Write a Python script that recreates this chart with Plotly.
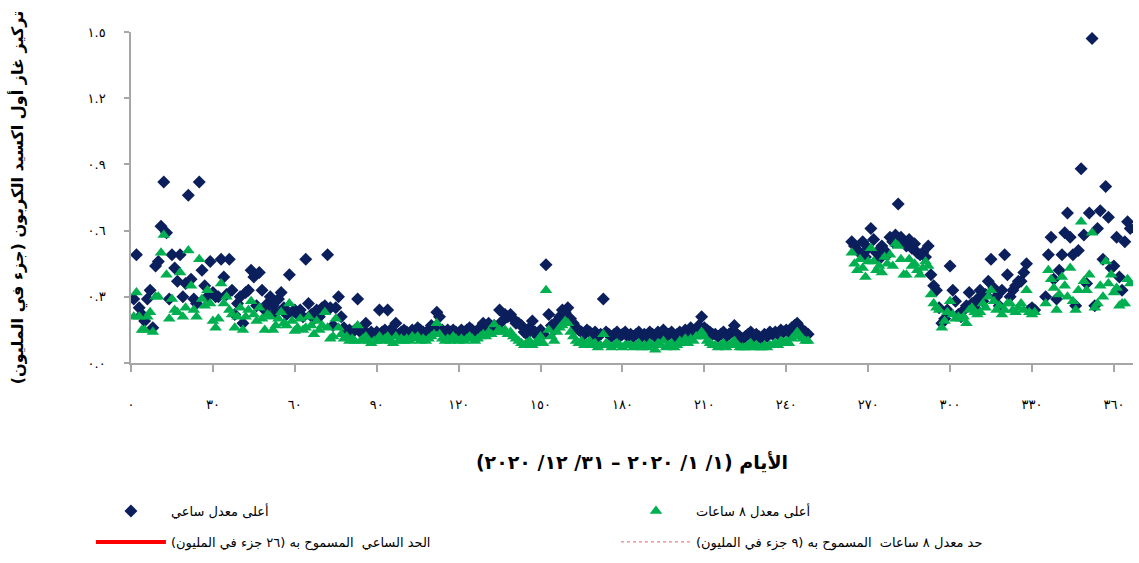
import plotly.graph_objects as go

# Daily maximum CO concentrations (ppm) for 2020, one value per day, by month.
# None marks days with no valid measurement.
jan_hourly = [0.29, 0.49, 0.25, 0.22, 0.19, 0.29, 0.33, 0.16, 0.44, 0.46, 0.62, 0.82, 0.59, 0.29, 0.49, 0.43,
              0.37, 0.49, 0.30, 0.36, 0.76, 0.38, 0.29, 0.27, 0.82, 0.42, 0.35, 0.30, 0.46, 0.32, 0.30]
feb_hourly = [0.30, 0.47, 0.39, 0.31, 0.47, 0.33, 0.22, 0.27, 0.30, 0.18, 0.32, 0.33, 0.42, 0.39, 0.26,
              0.41, 0.33, 0.24, 0.27, 0.30, 0.26, 0.23, 0.29, 0.32, 0.25, 0.22, 0.40, 0.23, 0.24]
mar_hourly = [0.22, 0.24, 0.21, 0.47, 0.27, 0.22, 0.20, 0.24, 0.21, 0.25, 0.26, 0.49, 0.25, 0.17, 0.25, 0.30,
              0.21, 0.16, 0.14, 0.15, 0.14, 0.15, 0.29, 0.14, 0.15, 0.18, 0.13, 0.14, 0.13, 0.14, 0.24]
apr_hourly = [0.14, 0.15, 0.24, 0.15, 0.14, 0.18, 0.13, 0.14, 0.15, 0.14, 0.13, 0.15, 0.14, 0.16, 0.15,
              0.14, 0.13, 0.15, 0.17, 0.16, 0.23, 0.21, 0.15, 0.14, 0.15, 0.14, 0.15, 0.14, 0.13, 0.15]
may_hourly = [0.14, 0.15, 0.16, 0.15, 0.14, 0.15, 0.16, 0.18, 0.15, 0.18, 0.16, 0.17, 0.16, 0.24, 0.19, 0.22,
              0.21, 0.22, 0.20, 0.18, 0.18, 0.17, 0.14, 0.13, 0.16, 0.19, 0.14, 0.12, 0.15, 0.13, 0.445]
jun_hourly = [0.22, 0.17, 0.15, 0.19, 0.21, 0.24, 0.23, 0.25, 0.20, 0.18, 0.16, 0.15, 0.14, 0.13, 0.15,
              0.14, 0.13, 0.14, 0.12, 0.13, 0.29, 0.14, 0.13, 0.12, 0.13, 0.14, 0.12, 0.13, 0.14, 0.12]
jul_hourly = [0.13, 0.12, 0.13, 0.14, 0.12, 0.13, 0.12, 0.14, 0.13, 0.12, 0.14, 0.13, 0.15, 0.12, 0.13, 0.14,
              0.12, 0.13, 0.14, 0.13, 0.15, 0.14, 0.16, 0.14, 0.15, 0.17, 0.21, 0.16, 0.15, 0.14, 0.13]
aug_hourly = [0.13, 0.12, 0.13, 0.14, 0.12, 0.13, 0.14, 0.17, 0.13, 0.12, 0.11, 0.12, 0.13, 0.14, 0.12, 0.13,
              0.12, 0.11, 0.13, 0.12, 0.14, 0.13, 0.14, 0.13, 0.15, 0.14, 0.15, 0.14, 0.16, 0.17, 0.18]
sep_hourly = [0.16, 0.15, 0.14, 0.13, None, None, None, None, None, None, None, None, None, None, None,
              None, None, None, None, 0.55, 0.53, 0.51, 0.50, 0.55, 0.48, 0.52, 0.61, 0.56, 0.50, 0.47]
oct_hourly = [0.53, 0.51, 0.49, 0.57, 0.55, 0.58, 0.72, 0.57, 0.55, 0.53, 0.56, 0.52, 0.54, 0.50, 0.49, 0.50,
              0.48, 0.53, 0.40, 0.35, 0.33, 0.25, 0.18, 0.20, 0.24, 0.44, 0.33, 0.28, 0.22, 0.21, 0.24]
nov_hourly = [0.26, 0.32, 0.27, 0.25, 0.29, 0.33, 0.28, 0.31, 0.37, 0.47, 0.34, 0.30, 0.26, 0.33, 0.49,
              0.40, 0.30, 0.33, 0.35, 0.37, 0.37, 0.41, 0.45, 0.24, 0.25, 0.24, None, None, None, 0.30]
dec_hourly = [0.49, 0.57, 0.38, 0.29, 0.42, 0.49, 0.59, 0.68, 0.57, 0.49, 0.26, 0.51, 0.88, 0.58, 0.36, 0.68,
              1.47, 0.26, 0.61, 0.69, 0.47, 0.80, 0.66, 0.43, 0.44, 0.57, 0.39, 0.33, 0.55, 0.64, 0.61]

jan_8h = [0.21, 0.32, 0.21, 0.15, 0.15, 0.21, 0.23, 0.14, 0.30, 0.30, 0.50, 0.58, 0.40, 0.20, 0.29, 0.24,
          0.23, 0.41, 0.21, 0.25, 0.51, 0.35, 0.24, 0.21, 0.47, 0.29, 0.26, 0.33, 0.27, 0.19, 0.16]
feb_8h = [0.20, 0.36, 0.27, 0.30, 0.24, 0.22, 0.16, 0.21, 0.25, 0.15, 0.21, 0.24, 0.28, 0.22, 0.19,
          0.25, 0.20, 0.15, 0.22, 0.21, 0.15, 0.17, 0.20, 0.23, 0.18, 0.17, 0.27, 0.19, 0.145]
mar_8h = [0.16, 0.20, 0.15, 0.16, 0.21, 0.17, 0.13, 0.19, 0.15, 0.17, 0.23, 0.16, 0.11, 0.12, 0.20, 0.16,
          0.13, 0.11, 0.12, 0.10, 0.11, 0.10, 0.17, 0.10, 0.11, 0.12, 0.10, 0.09, 0.10, 0.10, 0.12]
apr_8h = [0.10, 0.11, 0.12, 0.10, 0.09, 0.12, 0.10, 0.11, 0.10, 0.11, 0.10, 0.12, 0.11, 0.12, 0.10,
          0.11, 0.10, 0.11, 0.12, 0.13, 0.18, 0.13, 0.11, 0.10, 0.11, 0.10, 0.12, 0.11, 0.10, 0.11]
may_8h = [0.10, 0.11, 0.12, 0.11, 0.10, 0.11, 0.12, 0.13, 0.12, 0.14, 0.13, 0.175, 0.14, 0.15, 0.14, 0.15,
          0.13, 0.14, 0.12, 0.11, 0.10, 0.09, 0.08, 0.09, 0.10, 0.08, 0.09, 0.10, 0.12, 0.09, 0.33]
jun_8h = [0.15, 0.12, 0.10, 0.14, 0.16, 0.17, 0.19, 0.18, 0.14, 0.12, 0.10, 0.09, 0.10, 0.08, 0.09,
          0.10, 0.08, 0.09, 0.07, 0.08, 0.13, 0.09, 0.08, 0.07, 0.08, 0.09, 0.08, 0.07, 0.08, 0.08]
jul_8h = [0.08, 0.07, 0.08, 0.09, 0.07, 0.08, 0.07, 0.09, 0.08, 0.06, 0.09, 0.08, 0.10, 0.07, 0.08, 0.09,
          0.07, 0.08, 0.10, 0.09, 0.11, 0.09, 0.11, 0.10, 0.12, 0.12, 0.14, 0.12, 0.10, 0.09, 0.08]
aug_8h = [0.08, 0.07, 0.08, 0.09, 0.07, 0.08, 0.09, 0.10, 0.08, 0.07, 0.07, 0.07, 0.08, 0.09, 0.07, 0.08,
          0.07, 0.07, 0.08, 0.07, 0.08, 0.08, 0.09, 0.08, 0.10, 0.09, 0.10, 0.09, 0.11, 0.12, 0.14]
sep_8h = [0.12, 0.11, 0.10, 0.10, None, None, None, None, None, None, None, None, None, None, None,
          None, None, None, None, 0.50, 0.45, 0.42, 0.47, 0.43, 0.39, 0.46, 0.52, 0.46, 0.42, 0.44]
oct_8h = [0.41, 0.48, 0.45, 0.49, 0.44, 0.54, 0.53, 0.47, 0.40, 0.40, 0.47, 0.44, 0.45, 0.42, 0.40, 0.43,
          0.46, 0.44, 0.31, 0.27, 0.25, 0.24, 0.16, 0.19, 0.23, 0.28, 0.22, 0.20, 0.21, 0.20, 0.21]
nov_8h = [0.18, 0.24, 0.25, 0.23, 0.22, 0.23, 0.27, 0.25, 0.30, 0.33, 0.28, 0.24, 0.26, 0.22, 0.24,
          0.27, 0.27, 0.24, 0.23, 0.25, 0.27, 0.24, 0.33, 0.23, 0.22, 0.23, None, None, None, 0.27]
dec_8h = [0.42, 0.38, 0.34, 0.24, 0.31, 0.39, 0.35, 0.30, 0.43, 0.28, 0.24, 0.33, 0.64, 0.37, 0.33, 0.40,
          0.59, 0.25, 0.27, 0.35, 0.30, 0.46, 0.36, 0.40, 0.32, 0.34, 0.26, 0.27, 0.27, 0.38, 0.36]

# Permitted limits (ppm)
hourly_limit = 26
eight_hour_limit = 9

# Axis ticks with Arabic-Indic labels
x_tick_vals = [0, 30, 60, 90, 120, 150, 180, 210, 240, 270, 300, 330, 360]
x_tick_text = ["٠", "٣٠", "٦٠", "٩٠", "١٢٠", "١٥٠", "١٨٠", "٢١٠", "٢٤٠", "٢٧٠", "٣٠٠", "٣٣٠", "٣٦٠"]
y_tick_vals = [0.0, 0.3, 0.6, 0.9, 1.2, 1.5]
y_tick_text = ["٠.٠", "٠.٣", "٠.٦", "٠.٩", "١.٢", "١.٥"]

hourly = (jan_hourly + feb_hourly + mar_hourly + apr_hourly + may_hourly + jun_hourly +
          jul_hourly + aug_hourly + sep_hourly + oct_hourly + nov_hourly + dec_hourly)
eight_hour = (jan_8h + feb_8h + mar_8h + apr_8h + may_8h + jun_8h +
              jul_8h + aug_8h + sep_8h + oct_8h + nov_8h + dec_8h)
days = list(range(1, len(hourly) + 1))

FONT = "DejaVu Sans"
NAVY = "#0B1F5C"
GREEN = "#00B050"
RED = "#FF0000"
AXIS_GREY = "#A6A6A6"

fig = go.Figure()

fig.add_trace(go.Scatter(
    x=days, y=hourly, mode="markers", name="أعلى معدل ساعي",
    marker=dict(symbol="diamond", size=10, color=NAVY),
    legend="legend", legendgroup="g1",
))
fig.add_trace(go.Scatter(
    x=days, y=eight_hour, mode="markers", name="أعلى معدل ٨ ساعات",
    marker=dict(symbol="triangle-up", size=11, color=GREEN),
    legend="legend2", legendgroup="g3",
))
fig.add_trace(go.Scatter(
    x=[days[0], days[-1]], y=[hourly_limit, hourly_limit], mode="lines",
    name="الحد الساعي  المسموح به (٢٦ جزء في المليون)",
    line=dict(color=RED, width=4),
    legend="legend", legendgroup="g2",
))
fig.add_trace(go.Scatter(
    x=[days[0], days[-1]], y=[eight_hour_limit, eight_hour_limit], mode="lines",
    name="حد معدل ٨ ساعات  المسموح به (٩ جزء في المليون)",
    line=dict(color="#F08080", width=1.2, dash="dot"),
    legend="legend2", legendgroup="g4",
))

legend_common = dict(
    orientation="v", traceorder="grouped", tracegroupgap=11,
    font=dict(family=FONT, size=13, color="black"),
    bgcolor="rgba(0,0,0,0)", itemwidth=70,
    xanchor="left", yanchor="top",
)

fig.update_layout(
    width=1139, height=563,
    margin=dict(l=131, r=6, t=32, b=195),
    paper_bgcolor="white", plot_bgcolor="white",
    font=dict(family=FONT, color="black"),
    showlegend=True,
    legend=dict(x=-0.040, y=-0.402, **legend_common),
    legend2=dict(x=0.484, y=-0.402, **legend_common),
    xaxis=dict(
        range=[0, 367], tickmode="array", tickvals=x_tick_vals, ticktext=x_tick_text,
        showgrid=False, zeroline=False, showline=True, linecolor=AXIS_GREY, linewidth=1.5,
        ticks="outside", ticklen=7, tickwidth=1.5, tickcolor=AXIS_GREY,
        tickfont=dict(family=FONT, size=13, color="black"), ticklabelstandoff=22,
        title=dict(text="<b>الأيام (١/ ١/ ٢٠٢٠ – ٣١/ ١٢/ ٢٠٢٠)</b>",
                   font=dict(family=FONT, size=19, color="black"), standoff=44),
    ),
    yaxis=dict(
        range=[0, 1.5], tickmode="array", tickvals=y_tick_vals, ticktext=y_tick_text,
        showgrid=False, zeroline=False, showline=True, linecolor=AXIS_GREY, linewidth=1.5,
        ticks="outside", ticklen=5, tickwidth=1.5, tickcolor=AXIS_GREY,
        tickfont=dict(family=FONT, size=13, color="black"), ticklabelstandoff=16,
        title=dict(text="<b>تركيز غاز أول اكسيد الكربون (جزء في المليون)</b>",
                   font=dict(family=FONT, size=16, color="black"), standoff=60),
    ),
)

fig.write_html("out.html")
